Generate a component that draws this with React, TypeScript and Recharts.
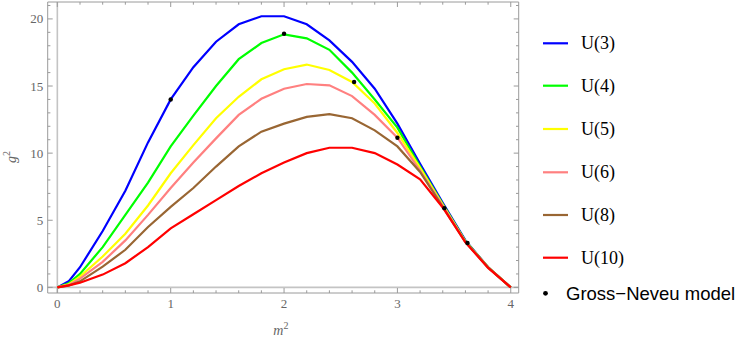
import React from 'react';
import { ComposedChart, Line, Scatter, XAxis, YAxis, ReferenceLine } from 'recharts';

// m^2 sample points
const mValues = [0, 0.1, 0.2, 0.4, 0.6, 0.8, 1.0, 1.2, 1.4, 1.6, 1.8, 2.0, 2.2, 2.4, 2.6, 2.8, 3.0, 3.2, 3.4, 3.6, 3.8, 4.0];

// g^2 values per series
const u3 = [0, 0.45, 1.5, 4.2, 7.2, 10.8, 14.0, 16.4, 18.3, 19.6, 20.2, 20.2, 19.6, 18.4, 16.8, 14.8, 12.2, 9.2, 6.3, 3.5, 1.5, 0];
const u4 = [0, 0.3, 1.0, 3.0, 5.4, 7.8, 10.5, 12.8, 15.0, 17.0, 18.2, 18.85, 18.55, 17.7, 16.0, 14.0, 11.9, 9.0, 6.2, 3.45, 1.5, 0];
const u5 = [0, 0.22, 0.8, 2.3, 4.0, 6.1, 8.5, 10.6, 12.6, 14.2, 15.5, 16.25, 16.6, 16.2, 15.3, 13.7, 11.5, 8.9, 6.15, 3.42, 1.5, 0];
const u6 = [0, 0.18, 0.65, 1.9, 3.5, 5.4, 7.4, 9.3, 11.1, 12.85, 14.05, 14.8, 15.15, 15.05, 14.25, 12.85, 11.15, 8.7, 6.1, 3.4, 1.5, 0];
const u8 = [0, 0.13, 0.45, 1.55, 2.8, 4.5, 6.0, 7.4, 9.0, 10.5, 11.6, 12.2, 12.7, 12.9, 12.6, 11.7, 10.5, 8.6, 6.0, 3.38, 1.5, 0];
const u10 = [0, 0.15, 0.35, 0.95, 1.8, 3.0, 4.4, 5.45, 6.5, 7.55, 8.5, 9.3, 10.0, 10.4, 10.4, 10.0, 9.15, 8.05, 5.95, 3.35, 1.45, 0];

const seriesKeys = ['u3', 'u4', 'u5', 'u6', 'u8', 'u10'];
const seriesNames = ['U(3)', 'U(4)', 'U(5)', 'U(6)', 'U(8)', 'U(10)'];
const seriesColors = ['#0000ff', '#00ff00', '#ffff00', '#ff8080', '#996633', '#ff0000'];
const seriesValues = [u3, u4, u5, u6, u8, u10];

// Gross-Neveu model points
const gnM = [1.0, 2.0, 2.618, 3.0, 3.414, 3.618];
const gnG = [14.0, 18.9, 15.3, 11.15, 5.9, 3.3];
const gnName = 'Gross\u2212Neveu model';

// tick positions
const xTicks = [0, 0.2, 0.4, 0.6, 0.8, 1, 1.2, 1.4, 1.6, 1.8, 2, 2.2, 2.4, 2.6, 2.8, 3, 3.2, 3.4, 3.6, 3.8, 4];
const yTicks = [0, 1, 2, 3, 4, 5, 6, 7, 8, 9, 10, 11, 12, 13, 14, 15, 16, 17, 18, 19, 20, 21];

const chartData = mValues.map((m, i) => {
  const row: Record<string, number> = { m };
  seriesKeys.forEach((k, j) => { row[k] = seriesValues[j][i]; });
  return row;
});
const gnData = gnM.map((m, i) => ({ m, g: gnG[i] }));

const FRAME = '#9a9a9a';
const LABEL = '#666666';
const SERIF = '"Liberation Serif", "Times New Roman", serif';
const SANS = '"Liberation Sans", Arial, sans-serif';

const isMajor = (v: number, step: number) => Math.abs(v / step - Math.round(v / step)) < 1e-6;

const BottomTick = (props: any) => {
  const { x, y, payload } = props;
  const v = payload.value;
  const major = isMajor(v, 1);
  return (
    <g>
      <line x1={x} x2={x} y1={y} y2={y - (major ? 5 : 2.7)} stroke={FRAME} strokeWidth={1} />
      {major && (
        <text x={x} y={y + 14.5} textAnchor="middle" fontFamily={SERIF} fontSize={13} fill={LABEL}>
          {Math.round(v)}
        </text>
      )}
    </g>
  );
};

const TopTick = (props: any) => {
  const { x, y, payload } = props;
  const major = isMajor(payload.value, 1);
  return <line x1={x} x2={x} y1={y} y2={y + (major ? 5 : 2.7)} stroke={FRAME} strokeWidth={1} />;
};

const LeftTick = (props: any) => {
  const { x, y, payload } = props;
  const v = payload.value;
  const major = isMajor(v, 5);
  return (
    <g>
      <line x1={x} x2={x + (major ? 5 : 2.7)} y1={y} y2={y} stroke={FRAME} strokeWidth={1} />
      {major && (
        <text x={x - 4.5} y={y + 4.5} textAnchor="end" fontFamily={SERIF} fontSize={13} fill={LABEL}>
          {Math.round(v)}
        </text>
      )}
    </g>
  );
};

const RightTick = (props: any) => {
  const { x, y, payload } = props;
  const major = isMajor(payload.value, 5);
  return <line x1={x} x2={x - (major ? 5 : 2.7)} y1={y} y2={y} stroke={FRAME} strokeWidth={1} />;
};

const XTitle = () => (
  <text x={273.3} y={335} fontFamily={SERIF} fill={LABEL}>
    <tspan fontStyle="italic" fontSize={14}>m</tspan>
    <tspan fontSize={10} dy={-6}>2</tspan>
  </text>
);

const YTitle = () => (
  <text x={15.5} y={157} transform="rotate(-90, 15.5, 157)" textAnchor="middle" fontFamily={SERIF} fill={LABEL}>
    <tspan fontStyle="italic" fontSize={14}>g</tspan>
    <tspan fontSize={10} dy={-6}>2</tspan>
  </text>
);

const GNDot = (props: any) => <circle cx={props.cx} cy={props.cy} r={2.2} fill="#000000" />;

const legendRows = [43.3, 85.7, 129, 172.3, 215, 257.7];

export default function App() {
  return (
    <div style={{ position: 'absolute', left: 0, top: 0, width: 747, height: 345, background: '#fff' }}>
      <ComposedChart
        width={530}
        height={345}
        data={chartData}
        margin={{ top: 1, right: 10.3, bottom: 12, left: 0 }}
      >
        <XAxis
          xAxisId="b"
          dataKey="m"
          type="number"
          domain={[-0.085, 4.07]}
          ticks={xTicks}
          interval={0}
          allowDataOverflow
          orientation="bottom"
          height={40}
          tickSize={0}
          tickMargin={0}
          tickLine={false}
          axisLine={{ stroke: FRAME }}
          tick={<BottomTick />}
          label={{ content: () => <XTitle /> }}
        />
        <XAxis
          xAxisId="t"
          dataKey="m"
          type="number"
          domain={[-0.085, 4.07]}
          ticks={xTicks}
          interval={0}
          allowDataOverflow
          orientation="top"
          height={1}
          tickSize={0}
          tickMargin={0}
          tickLine={false}
          axisLine={{ stroke: FRAME }}
          tick={<TopTick />}
        />
        <YAxis
          yAxisId="l"
          type="number"
          domain={[-0.42, 21.26]}
          ticks={yTicks}
          interval={0}
          allowDataOverflow
          orientation="left"
          width={47.7}
          tickSize={0}
          tickMargin={0}
          tickLine={false}
          axisLine={{ stroke: FRAME }}
          tick={<LeftTick />}
          label={{ content: () => <YTitle /> }}
        />
        <YAxis
          yAxisId="r"
          type="number"
          domain={[-0.42, 21.26]}
          ticks={yTicks}
          interval={0}
          allowDataOverflow
          orientation="right"
          width={1}
          tickSize={0}
          tickMargin={0}
          tickLine={false}
          axisLine={{ stroke: FRAME }}
          tick={<RightTick />}
        />
        <ReferenceLine xAxisId="b" yAxisId="l" x={0} stroke="#c4c4c4" strokeWidth={1.6} />
        <ReferenceLine xAxisId="b" yAxisId="l" y={0} stroke="#c4c4c4" strokeWidth={1.6} />
        {seriesKeys.map((k, i) => (
          <Line
            key={k}
            xAxisId="b"
            yAxisId="l"
            type="linear"
            dataKey={k}
            name={seriesNames[i]}
            stroke={seriesColors[i]}
            strokeWidth={2.2}
            dot={false}
            activeDot={false}
            isAnimationActive={false}
          />
        ))}
        <Scatter
          xAxisId="b"
          yAxisId="l"
          data={gnData}
          dataKey="g"
          name={gnName}
          fill="#000"
          shape={<GNDot />}
          isAnimationActive={false}
        />
      </ComposedChart>
      <svg width={227} height={345} style={{ position: 'absolute', left: 520, top: 0 }}>
        {seriesNames.map((n, i) => (
          <g key={n}>
            <line x1={23} x2={48} y1={legendRows[i]} y2={legendRows[i]} stroke={seriesColors[i]} strokeWidth={2.2} />
            <text x={61} y={legendRows[i] + 6} fontFamily={SERIF} fontSize={18} fill="#000">{n}</text>
          </g>
        ))}
        <circle cx={25.5} cy={293.3} r={2.4} fill="#000" />
        <text x={46} y={299.8} fontFamily={SANS} fontSize={18.5} fill="#000">{gnName}</text>
      </svg>
    </div>
  );
}
